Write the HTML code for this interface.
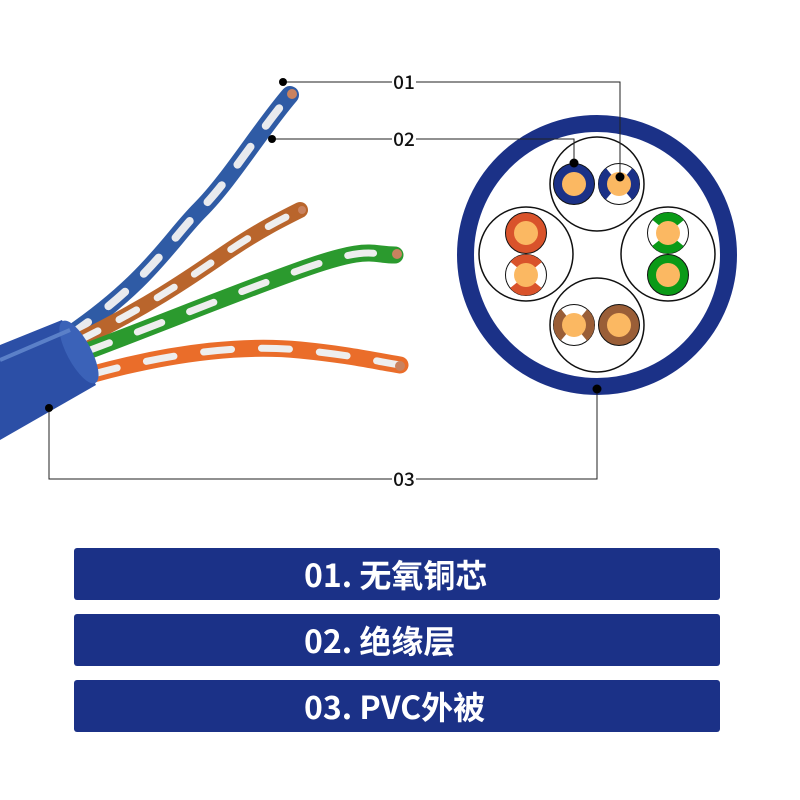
<!DOCTYPE html>
<html><head><meta charset="utf-8"><style>
html,body{margin:0;padding:0;background:#fff;}
body{width:800px;height:800px;position:relative;overflow:hidden;font-family:"Liberation Sans","Noto Sans CJK SC",sans-serif;}
.bar{position:absolute;left:74px;width:646px;height:52px;background:#1b3187;border-radius:3px;color:#fff;font-family:"Noto Sans CJK SC","Liberation Sans",sans-serif;font-weight:bold;font-size:32px;line-height:52px;box-sizing:border-box;padding-left:230px;}
</style></head><body>
<svg width="800" height="800" style="position:absolute;left:0;top:0">
<g fill="none" stroke-linecap="round">
 <path d="M70,335 C150,280 170,240 200,210 S260,130 290,95" stroke="#2f5ba5" stroke-width="18"/>
 <path d="M70,335 C150,280 170,240 200,210 S260,130 290,95" stroke="#e8eaee" stroke-width="8" stroke-dasharray="22 26"/>
 <path d="M80,340 C160,300 200,270 230,250 S280,220 300,210" stroke="#b9652c" stroke-width="16"/>
 <path d="M80,340 C160,300 200,270 230,250 S280,220 300,210" stroke="#eee" stroke-width="7" stroke-dasharray="20 24"/>
 <path d="M85,352 C170,320 230,295 300,270 S370,255 395,255" stroke="#2b9a2e" stroke-width="17"/>
 <path d="M85,352 C170,320 230,295 300,270 S370,255 395,255" stroke="#eee" stroke-width="7" stroke-dasharray="26 30"/>
 <path d="M90,375 C180,350 250,345 300,350 S370,360 400,365" stroke="#ea6d2a" stroke-width="17"/>
 <path d="M90,375 C180,350 250,345 300,350 S370,360 400,365" stroke="#eee" stroke-width="7" stroke-dasharray="28 30"/>
</g>
<circle cx="292" cy="94" r="5" fill="#c9825f"/>
<circle cx="302" cy="210" r="4" fill="#c9825f"/>
<circle cx="397" cy="254" r="5" fill="#c9825f"/>
<circle cx="400" cy="366" r="5" fill="#c9825f"/>
<path d="M0,345 L62,320 L96,385 L0,440 Z" fill="#2c4fa6"/>
<ellipse cx="79" cy="352" rx="12" ry="35" transform="rotate(-28 79 352)" fill="#3b62b8"/>
<path d="M0,360 L70,330" stroke="#5b80c8" stroke-width="4"/>
<circle cx="597" cy="255" r="131.5" fill="#fff" stroke="#1b3187" stroke-width="17"/>
<g fill="none" stroke="#111" stroke-width="1.5">
 <circle cx="597" cy="184" r="47"/><circle cx="526" cy="254" r="47"/>
 <circle cx="668" cy="254" r="47"/><circle cx="597" cy="325" r="47"/>
</g>
<g stroke="#111" stroke-width="1">
 <circle cx="574" cy="184" r="20.5" fill="#1b3187"/>
 <circle cx="526" cy="233" r="20.5" fill="#d9532b"/>
 <circle cx="668" cy="275" r="20.5" fill="#0a9a17"/>
 <circle cx="619" cy="325" r="20.5" fill="#9a5e37"/>
</g>
<g stroke-width="9" fill="none">
 <circle cx="619" cy="184" r="20.5" fill="#fff" stroke="#111" stroke-width="1"/>
 <circle cx="619" cy="184" r="16" stroke="#1b3187" stroke-dasharray="28 22.27" transform="rotate(-50 619 184)"/>
 <circle cx="526" cy="275" r="20.5" fill="#fff" stroke="#111" stroke-width="1"/>
 <circle cx="526" cy="275" r="16" stroke="#d9532b" stroke-dasharray="28 22.27" transform="rotate(40 526 275)"/>
 <circle cx="668" cy="233" r="20.5" fill="#fff" stroke="#111" stroke-width="1"/>
 <circle cx="668" cy="233" r="16" stroke="#0a9a17" stroke-dasharray="28 22.27" transform="rotate(40 668 233)"/>
 <circle cx="574" cy="325" r="20.5" fill="#fff" stroke="#111" stroke-width="1"/>
 <circle cx="574" cy="325" r="16" stroke="#9a5e37" stroke-dasharray="28 22.27" transform="rotate(-50 574 325)"/>
</g>
<g fill="#fbb862">
 <circle cx="574" cy="184" r="12"/><circle cx="619" cy="184" r="12"/>
 <circle cx="526" cy="233" r="12"/><circle cx="526" cy="275" r="12"/>
 <circle cx="668" cy="233" r="12"/><circle cx="668" cy="275" r="12"/>
 <circle cx="574" cy="325" r="12"/><circle cx="619" cy="325" r="12"/>
</g>
<g stroke="#222" stroke-width="1" fill="none">
 <path d="M283,82 H392 M416,82 H620 V177"/>
 <path d="M272,139 H392 M416,139 H574 V163"/>
 <path d="M49,408 V479 H392 M416,479 H597 V389"/>
</g>
<g fill="#000">
 <circle cx="283" cy="82" r="4"/><circle cx="272" cy="139" r="4"/><circle cx="49" cy="408" r="4"/>
 <circle cx="620" cy="177" r="4.5"/><circle cx="574" cy="163" r="4.5"/><circle cx="597" cy="389" r="4.5"/>
</g>
<g font-family="Noto Sans CJK SC, Liberation Sans, sans-serif" font-size="19" font-weight="500" fill="#111" text-anchor="middle">
 <text x="404" y="89">01</text><text x="404" y="146">02</text><text x="404" y="486">03</text>
</g>
</svg>
<div class="bar" style="top:548px">01. 无氧铜芯</div>
<div class="bar" style="top:614px">02. 绝缘层</div>
<div class="bar" style="top:680px">03. PVC外被</div>
</body></html>
